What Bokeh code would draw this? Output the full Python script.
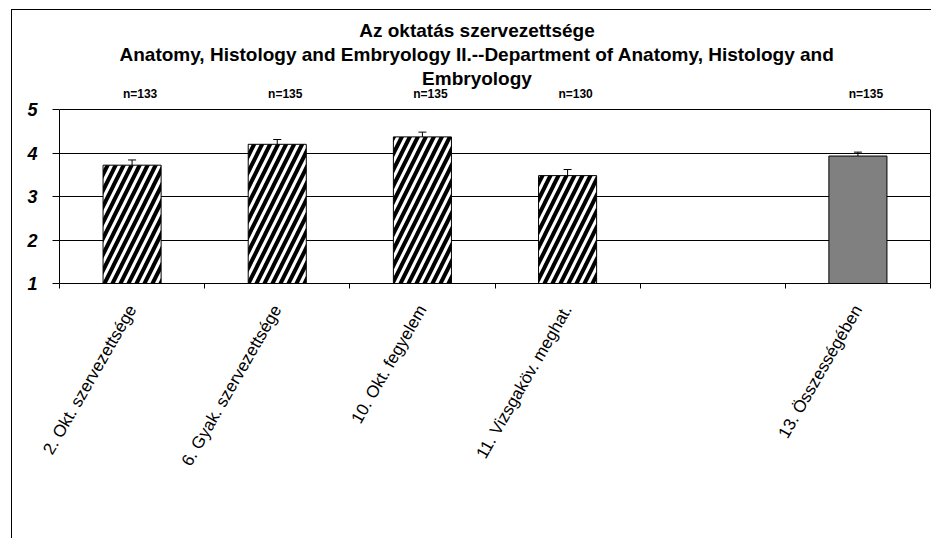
import math
from bokeh.plotting import figure
from bokeh.models import (ColumnDataSource, FixedTicker, Whisker, Range1d, LinearAxis, Label)
from bokeh.core.properties import value
from bokeh.embed import file_html
from bokeh.resources import INLINE

# ---- data ----
categories = ["2. Okt. szervezettsége", "6. Gyak. szervezettsége", "10. Okt. fegyelem",
              "11. Vizsgaköv. meghat.", "", "13. Összességében"]
bar_categories = ["2. Okt. szervezettsége", "6. Gyak. szervezettsége", "10. Okt. fegyelem",
                  "11. Vizsgaköv. meghat."]
bar_values = [3.72, 4.20, 4.37, 3.48]
bar_errors = [0.12, 0.11, 0.11, 0.14]
bar_n = ["n=133", "n=135", "n=135", "n=130"]
total_category = "13. Összességében"
total_value = 3.93
total_error = 0.09
total_n = "n=135"
y_ticks = [1, 2, 3, 4, 5]
title_lines = ["Az oktatás szervezettsége",
               "Anatomy, Histology and Embryology II.--Department of Anatomy, Histology and",
               "Embryology"]

pos = {c: i + 1 for i, c in enumerate(categories)}
y_min, y_max = y_ticks[0], y_ticks[-1]

FONT = "Liberation Sans"
W, H = 920, 529
B_LEFT, B_TOP, B_RIGHT, B_BOTTOM = 47, 0, 2, 256
FRAME_W = W - B_LEFT - B_RIGHT
FRAME_H = H - B_TOP - B_BOTTOM
BOX_PX = 174  # pixel height of the 1..5 value box
y_end = y_min + FRAME_H * (y_max - y_min) / BOX_PX  # headroom for title and n labels

p = figure(width=W, height=H, output_backend="svg", toolbar_location=None,
           x_range=Range1d(0.5, len(categories) + 0.5), y_range=Range1d(y_min, y_end),
           min_border_left=B_LEFT, min_border_top=B_TOP, min_border_right=B_RIGHT,
           min_border_bottom=B_BOTTOM)
p.styles = {"margin-left": "11px", "margin-top": "9px",
            "border-left": "1px solid black", "border-top": "1px solid black"}

# title lines (screen units are measured from the plot frame's lower-left corner)
for i, line in enumerate(title_lines):
    p.add_layout(Label(x=FRAME_W / 2 - 18, y=FRAME_H - 20 - 24 * i,
                       x_units="screen", y_units="screen",
                       text=line, text_align="center", text_baseline="middle",
                       text_font=FONT, text_font_size="19px", text_font_style="bold",
                       text_color="black"))

p.background_fill_color = "white"
p.border_fill_color = "white"
p.outline_line_color = None

# grid (the line at 5 is the top of the plot box)
p.xgrid.visible = False
p.ygrid.ticker = FixedTicker(ticks=y_ticks[1:])
p.ygrid.grid_line_color = "black"
p.ygrid.grid_line_width = 1
p.ygrid.grid_line_alpha = 1

# y axis
p.yaxis.ticker = FixedTicker(ticks=y_ticks)
p.yaxis.bounds = (y_min, y_max)
p.yaxis.major_label_text_font = FONT
p.yaxis.major_label_text_font_size = "18px"
p.yaxis.major_label_text_font_style = "bold italic"
p.yaxis.major_label_text_color = "black"
p.yaxis.major_label_standoff = 15
p.yaxis.major_tick_out = 7
p.yaxis.major_tick_in = 0
p.yaxis.minor_tick_line_color = None
p.yaxis.axis_line_color = "black"
p.yaxis.major_tick_line_color = "black"

# right edge of the plot box
r_axis = LinearAxis(ticker=FixedTicker(ticks=[]), bounds=(y_min, y_max),
                    axis_line_color="black", major_tick_out=0, major_tick_in=0,
                    minor_tick_out=0, minor_tick_in=0, major_label_standoff=0,
                    major_label_text_font_size="0px")
p.add_layout(r_axis, "right")

# x axis: labels at category centres, ticks at boundaries (minor ticks)
n = len(categories)
p.xaxis.ticker = FixedTicker(ticks=[pos[c] for c in categories],
                             minor_ticks=[i + 0.5 for i in range(n + 1)])
p.xaxis.major_label_overrides = {pos[c]: c for c in categories}
p.xaxis.major_tick_out = 0
p.xaxis.major_tick_in = 0
p.xaxis.minor_tick_out = 5
p.xaxis.minor_tick_in = 0
p.xaxis.minor_tick_line_color = "black"
p.xaxis.axis_line_color = "black"
p.xaxis.major_label_orientation = math.pi / 3
p.xaxis.major_label_text_font = FONT
p.xaxis.major_label_text_font_size = "17px"
p.xaxis.major_label_text_color = "black"
p.xaxis.major_label_standoff = 18

# bars
src = ColumnDataSource(dict(
    x=[pos[c] for c in bar_categories],
    top=bar_values,
    upper=[v + e for v, e in zip(bar_values, bar_errors)],
    lower=[v - e for v, e in zip(bar_values, bar_errors)],
    n=bar_n,
))
tsrc = ColumnDataSource(dict(
    x=[pos[total_category]], top=[total_value],
    upper=[total_value + total_error], lower=[total_value - total_error], n=[total_n],
))

p.vbar(x="x", top="top", bottom=y_min, width=0.4, source=src,
       fill_color="white", line_color="black", line_width=1,
       hatch_pattern="right_diagonal_line", hatch_color="black",
       hatch_scale=16, hatch_weight=4)
p.vbar(x="x", top="top", bottom=y_min, width=0.4, source=tsrc,
       fill_color="#808080", line_color="black", line_width=1)

for s in (src, tsrc):
    w = Whisker(base="x", upper="upper", lower="lower", source=s,
                line_color="black", line_width=1)
    w.upper_head.size = 8
    w.lower_head.size = 8
    w.upper_head.line_color = "black"
    w.lower_head.line_color = "black"
    p.add_layout(w)
    p.text(x="x", y=y_max, text="n", source=s, x_offset=8, y_offset=-16,
           text_align="center", text_baseline="middle",
           text_font=value(FONT), text_font_size="12px", text_font_style="bold",
           text_color="black")

open("out.html", "w").write(file_html(p, INLINE))
